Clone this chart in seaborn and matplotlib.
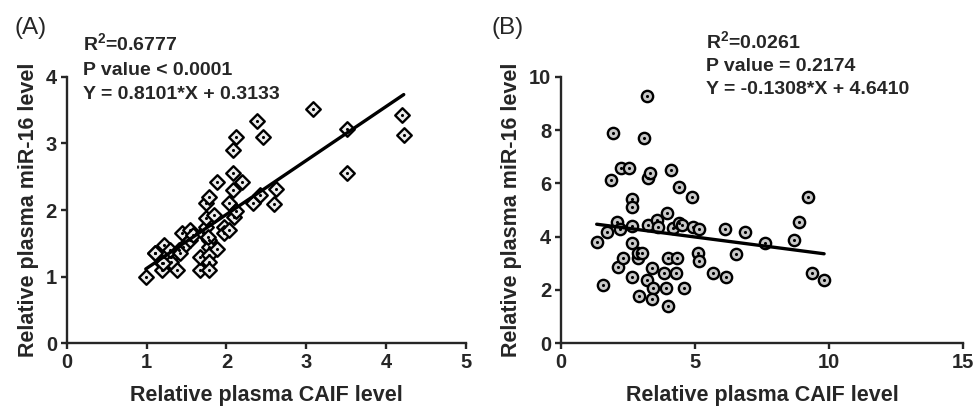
import numpy as np
import pandas as pd
import seaborn as sns
import matplotlib.pyplot as plt

# Panel A: CAIF vs miR-16 (diamonds)
caif_a = [0.99, 1.10, 1.22, 1.22, 1.19, 1.19, 1.31, 1.31, 1.38, 1.29, 1.41, 1.44,
          1.45, 1.54, 1.54, 1.58, 1.42, 1.67, 1.67, 1.71, 1.75, 1.75, 1.75, 1.78,
          1.78, 1.78, 1.78, 1.78, 1.78, 1.77, 1.85, 1.88, 1.88, 1.97, 1.97, 2.03,
          2.03, 2.08, 2.08, 2.08, 2.10, 2.12, 2.12, 2.20, 2.33, 2.38, 2.42, 2.46,
          2.59, 2.62, 3.08, 3.51, 3.51, 4.20, 4.22, 1.21, 1.10]
mir_a = [1.00, 1.35, 1.48, 1.30, 1.20, 1.10, 1.30, 1.22, 1.10, 1.40, 1.40, 1.65,
         1.45, 1.70, 1.55, 1.62, 1.36, 1.10, 1.30, 1.65, 1.75, 1.88, 2.10, 2.20,
         1.55, 1.45, 1.33, 1.22, 1.10, 1.60, 1.92, 2.42, 1.42, 1.75, 1.65, 2.10,
         1.70, 2.55, 2.30, 2.90, 1.90, 1.98, 3.10, 2.42, 2.10, 3.33, 2.22, 3.10,
         2.09, 2.32, 3.52, 3.22, 2.55, 3.42, 3.12, 1.20, 1.36]
slope_a, icpt_a = 0.8101, 0.3133
stats_a = ["R$^{2}$=0.6777", "P value < 0.0001", "Y = 0.8101*X + 0.3133"]

# Panel B: CAIF vs miR-16 (circles)
caif_b = [1.33, 1.58, 1.70, 1.85, 1.93, 2.10, 2.13, 2.20, 2.24, 2.32, 2.55, 2.66,
          2.66, 2.66, 2.66, 2.66, 2.88, 2.88, 2.92, 3.01, 3.11, 3.19, 3.22, 3.24,
          3.32, 3.24, 3.40, 3.42, 3.40, 3.57, 3.60, 3.84, 3.90, 3.96, 3.98, 4.00,
          4.11, 4.19, 4.27, 4.31, 4.41, 4.41, 4.50, 4.59, 4.87, 4.91, 5.12, 5.16,
          5.16, 5.65, 6.11, 6.14, 6.51, 6.85, 7.61, 8.69, 8.89, 9.22, 9.35, 9.81]
mir_b = [3.81, 2.17, 4.19, 6.11, 7.88, 4.56, 2.88, 4.30, 6.56, 3.21, 6.56, 5.40,
         5.13, 4.41, 3.78, 2.48, 3.21, 3.38, 1.78, 3.38, 7.69, 2.38, 9.29, 6.19,
         6.37, 4.42, 2.81, 2.08, 1.65, 4.63, 4.38, 2.63, 2.08, 4.90, 3.20, 1.40,
         6.50, 4.33, 2.63, 3.20, 5.88, 4.50, 4.45, 2.08, 5.50, 4.38, 3.40, 4.30,
         3.10, 2.63, 4.27, 2.48, 3.35, 4.16, 3.78, 3.86, 4.54, 5.50, 2.63, 2.38]
slope_b, icpt_b = -0.1308, 4.6410
stats_b = ["R$^{2}$=0.0261", "P value = 0.2174", "Y = -0.1308*X + 4.6410"]

sns.set_style("ticks")
plt.rcParams["font.family"] = ["Liberation Sans", "DejaVu Sans"]
plt.rcParams["mathtext.fontset"] = "custom"
plt.rcParams["mathtext.rm"] = "Liberation Sans:bold"
plt.rcParams["mathtext.it"] = "Liberation Sans:bold"

fig = plt.figure(figsize=(9.75, 4.11), dpi=100)
ax_a = fig.add_axes([0.0684, 0.1647, 0.4096, 0.6487])
ax_b = fig.add_axes([0.5754, 0.1647, 0.4126, 0.6487])


def draw_panel(ax, x, y, slope, icpt, marker, face, size, xlim, ylim, xticks, yticks):
    df = pd.DataFrame({"x": x, "y": y})
    sns.scatterplot(data=df, x="x", y="y", ax=ax, marker=marker, s=size,
                    color=face, edgecolor="black", linewidth=1.7, zorder=3)
    sns.scatterplot(data=df, x="x", y="y", ax=ax, marker="o", s=5,
                    color="black", edgecolor="black", linewidth=0, zorder=4)
    xs = np.array([min(x), max(x)])
    line = pd.DataFrame({"x": xs, "y": slope * xs + icpt})
    sns.lineplot(data=line, x="x", y="y", ax=ax, color="black", linewidth=2.4, zorder=5)
    ax.set_xlim(*xlim)
    ax.set_ylim(*ylim)
    ax.set_xticks(xticks)
    ax.set_yticks(yticks)
    for s in ["top", "right"]:
        ax.spines[s].set_visible(False)
    for s in ["left", "bottom"]:
        ax.spines[s].set_linewidth(1.7)
    ax.tick_params(width=1.7, length=4, labelsize=14.5, pad=3)
    for lab in ax.get_xticklabels() + ax.get_yticklabels():
        lab.set_fontweight("bold")
    ax.set_xlabel("Relative plasma CAIF level", fontsize=15.5, fontweight="bold", labelpad=9)
    ax.set_ylabel("Relative plasma miR-16 level", fontsize=15.5, fontweight="bold", labelpad=5)


draw_panel(ax_a, caif_a, mir_a, slope_a, icpt_a, "D", "#ececec", 55,
           (0, 5), (0, 4), [0, 1, 2, 3, 4, 5], [0, 1, 2, 3, 4])
draw_panel(ax_b, caif_b, mir_b, slope_b, icpt_b, "o", "#c8c8c8", 66,
           (0, 15), (0, 10), [0, 5, 10, 15], [0, 2, 4, 6, 8, 10])

fig.text(14 / 975, 1 - 34 / 411, "(A)", fontsize=17.5, ha="left", va="baseline")
fig.text(492 / 975, 1 - 34 / 411, "(B)", fontsize=17.5, ha="left", va="baseline")

for i, s in enumerate(stats_a):
    fig.text(83 / 975, 1 - (50 + 24.5 * i) / 411, s, fontsize=14,
             fontweight="bold", ha="left", va="baseline")
for i, s in enumerate(stats_b):
    fig.text(706 / 975, 1 - (48 + 23 * i) / 411, s, fontsize=14,
             fontweight="bold", ha="left", va="baseline")

fig.savefig("out.png", dpi=100)
